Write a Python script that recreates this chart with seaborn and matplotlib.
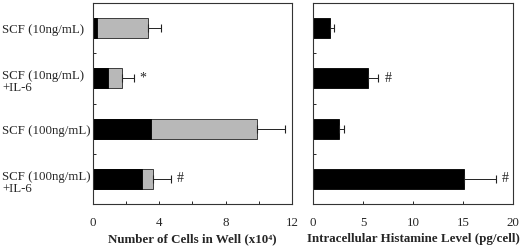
import matplotlib
matplotlib.use("Agg")
import matplotlib.pyplot as plt
import matplotlib.transforms as mtransforms
import seaborn as sns
import pandas as pd
import numpy as np

categories = ["SCF (10ng/mL)", "SCF (10ng/mL)\n+IL-6", "SCF (100ng/mL)", "SCF (100ng/mL)\n+IL-6"]
cells_black = [0.24, 0.90, 3.52, 2.96]
cells_total = [3.32, 1.76, 9.92, 3.62]
cells_err = [0.78, 0.70, 1.68, 1.08]
cells_marks = ["", "*", "", "#"]
histamine = [1.72, 5.54, 2.64, 15.1]
hist_err = [0.36, 0.99, 0.49, 3.2]
hist_marks = ["", "#", "", "#"]
cells_ticks = [0, 4, 8, 12]
cells_minor = [2, 6, 10]
hist_ticks = [0, 5, 10, 15, 20]

sns.set_style("ticks")
plt.rcParams["font.family"] = ["Liberation Serif", "DejaVu Serif"]
plt.rcParams["font.size"] = 9.3

df = pd.DataFrame({"cat": categories, "black": cells_black, "total": cells_total,
                   "err": cells_err, "hist": histamine, "herr": hist_err})

fig = plt.figure(figsize=(5.2, 2.46), dpi=100)
ax1 = fig.add_axes([0.1783, 0.1707, 0.3833, 0.8171])
ax2 = fig.add_axes([0.6019, 0.1707, 0.3846, 0.8171])

sns.barplot(data=df, y="cat", x="total", color="#b8b8b8", width=0.4, ax=ax1,
            edgecolor="#222222", linewidth=0.6, orient="h", errorbar=None, saturation=1)
sns.barplot(data=df, y="cat", x="black", color="black", width=0.4, ax=ax1,
            edgecolor="black", linewidth=0.6, orient="h", errorbar=None, saturation=1)
sns.barplot(data=df, y="cat", x="hist", color="black", width=0.4, ax=ax2,
            edgecolor="black", linewidth=0.6, orient="h", errorbar=None, saturation=1)

ypos = np.arange(len(categories))
ax1.errorbar(df["total"], ypos, xerr=[np.zeros(len(ypos)), df["err"]], fmt="none",
             ecolor="#222222", elinewidth=0.7, capsize=3, capthick=0.8)
ax2.errorbar(df["hist"], ypos, xerr=[np.zeros(len(ypos)), df["herr"]], fmt="none",
             ecolor="#222222", elinewidth=0.7, capsize=3, capthick=0.8)

for ax, ends, marks in [(ax1, np.array(cells_total) + np.array(cells_err), cells_marks),
                        (ax2, np.array(histamine) + np.array(hist_err), hist_marks)]:
    for i, (e, m) in enumerate(zip(ends, marks)):
        if m:
            ax.annotate(m, xy=(e, i), xytext=(4.5, 0), textcoords="offset points",
                        ha="left", va="center", fontsize=10)

ax1.set_xlim(0, 12)
ax1.set_xticks(cells_ticks)
ax1.set_xticks(cells_minor, minor=True)
ax2.set_xlim(0, 20)
ax2.set_xticks(hist_ticks)

for ax in (ax1, ax2):
    ax.set_ylim(3.5, -0.5)
    ax.set_yticks([0.5, 1.5, 2.5], minor=True)
    ax.tick_params(axis="y", which="major", length=0)
    ax.tick_params(axis="y", which="minor", direction="in", length=2.5, width=0.7)
    ax.tick_params(axis="x", which="both", direction="in", length=2.5, width=0.7, pad=9)
    ax.set_ylabel("")
    for s in ax.spines.values():
        s.set_visible(True)
        s.set_linewidth(0.8)
        s.set_color("#333333")

ax1.tick_params(axis="y", which="major", pad=65.3)
for lab in ax1.get_yticklabels():
    lab.set_ha("left")
    lab.set_linespacing(1.0)
    shift = -2.5 if "\n" in lab.get_text() else -0.8
    lab.set_transform(lab.get_transform() + mtransforms.ScaledTranslation(0, shift / 100, fig.dpi_scale_trans))
ax2.set_yticklabels([])

ax1.set_xlabel("Number of Cells in Well (x10⁴)", fontweight="bold", fontsize=9.4, labelpad=3.5)
ax2.set_xlabel("Intracellular Histamine Level (pg/cell)", fontweight="bold", fontsize=9.4, labelpad=3.5)

fig.savefig("out.png", dpi=100)
